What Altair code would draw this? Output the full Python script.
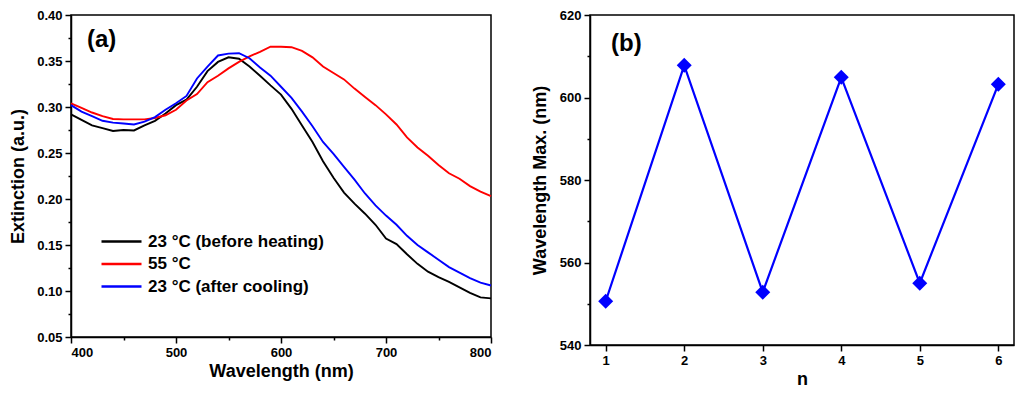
import altair as alt
import pandas as pd

# ---------------- data ----------------
wavelength = [400, 410, 420, 430, 440, 450, 460, 470, 480, 490,
              500, 510, 520, 530, 540, 550, 560, 570, 580, 590,
              600, 610, 620, 630, 640, 650, 660, 670, 680, 690,
              700, 710, 720, 730, 740, 750, 760, 770, 780, 790, 800]

ext_before = [0.292, 0.286, 0.280, 0.277, 0.274, 0.275, 0.2745, 0.280, 0.285, 0.293,
              0.302, 0.308, 0.322, 0.339, 0.349, 0.354, 0.3525, 0.344, 0.334, 0.3235,
              0.3135, 0.298, 0.280, 0.262, 0.241, 0.223, 0.207, 0.195, 0.184, 0.172,
              0.157, 0.151, 0.140, 0.1295, 0.121, 0.115, 0.110, 0.104, 0.098, 0.093, 0.092]

ext_55 = [0.304, 0.299, 0.294, 0.290, 0.287, 0.2865, 0.2865, 0.2865, 0.288, 0.291,
          0.297, 0.307, 0.314, 0.327, 0.334, 0.342, 0.349, 0.355, 0.360, 0.3655,
          0.3655, 0.365, 0.361, 0.354, 0.344, 0.337, 0.330, 0.320, 0.311, 0.302,
          0.292, 0.281, 0.267, 0.256, 0.247, 0.237, 0.228, 0.222, 0.214, 0.208, 0.203]

ext_after = [0.302, 0.295, 0.290, 0.285, 0.283, 0.282, 0.281, 0.284, 0.289, 0.297,
             0.304, 0.312, 0.331, 0.344, 0.356, 0.358, 0.3585, 0.353, 0.343, 0.334,
             0.322, 0.310, 0.295, 0.279, 0.262, 0.249, 0.235, 0.221, 0.206, 0.193,
             0.182, 0.172, 0.160, 0.150, 0.142, 0.134, 0.126, 0.120, 0.114, 0.109, 0.106]

series_names = ["23 °C (before heating)", "55 °C", "23 °C (after cooling)"]
series_colors = ["#000000", "#ff0000", "#0000ff"]

n_cycle = [1, 2, 3, 4, 5, 6]
wl_max = [550.6, 607.8, 552.8, 604.9, 555.0, 603.2]

x_ticks_a = [400, 450, 500, 550, 600, 650, 700, 750, 800]
y_ticks_a = [0.05, 0.075, 0.10, 0.125, 0.15, 0.175, 0.20, 0.225, 0.25,
             0.275, 0.30, 0.325, 0.35, 0.375, 0.40]
x_ticks_b = [1, 2, 3, 4, 5, 6]
y_ticks_b = [540, 550, 560, 570, 580, 590, 600, 610, 620]

# ---------------- tables ----------------
rows = []
for name, vals in zip(series_names, [ext_before, ext_55, ext_after]):
    for w, v in zip(wavelength, vals):
        rows.append({"wavelength": w, "extinction": v, "series": name})
df_a = pd.DataFrame(rows)
df_b = pd.DataFrame({"n": n_cycle, "wl": wl_max})

FONT = "Liberation Sans"

def tick_size(test):
    return {"condition": {"test": test, "value": 6}, "value": 3}

# ---------------- panel (a) ----------------
maj_xa = "datum.value % 100 === 0"
maj_ya = "abs(datum.value*20 - round(datum.value*20)) < 0.001"

lines = alt.Chart(df_a).mark_line(strokeWidth=1.9).encode(
    x=alt.X("wavelength:Q",
            scale=alt.Scale(domain=[400, 800], nice=False, zero=False),
            axis=alt.Axis(values=x_ticks_a, tickSize=tick_size(maj_xa),
                          labelExpr=f"{maj_xa} ? format(datum.value, 'd') : ''",
                          titlePadding=3, labelPadding=3),
            title="Wavelength (nm)"),
    y=alt.Y("extinction:Q",
            scale=alt.Scale(domain=[0.05, 0.40], nice=False, zero=False),
            axis=alt.Axis(values=y_ticks_a, tickSize=tick_size(maj_ya),
                          labelExpr=f"{maj_ya} ? format(datum.value, '.2f') : ''",
                          titlePadding=9, labelPadding=3),
            title="Extinction (a.u.)"),
    color=alt.Color("series:N",
                    scale=alt.Scale(domain=series_names, range=series_colors),
                    sort=series_names,
                    legend=alt.Legend(title=None, orient="none", legendX=39, legendY=215,
                                      symbolType="M-2,0H2", symbolSize=400,
                                      symbolStrokeWidth=2.5, labelFontSize=17,
                                      labelFont=FONT, labelFontWeight="bold",
                                      labelColor="black", rowPadding=2.5,
                                      labelOffset=15, padding=0, labelLimit=0)),
)

label_a = alt.Chart(pd.DataFrame({"t": ["(a)"]})).mark_text(
    font=FONT, fontSize=24, fontWeight="bold", align="left", baseline="middle", color="black"
).encode(text="t:N", x=alt.value(16), y=alt.value(25))

panel_a = alt.layer(lines, label_a).properties(width=420, height=322)

# ---------------- panel (b) ----------------
maj_yb = "datum.value % 20 === 0"

xb = alt.X("n:Q", scale=alt.Scale(domain=[0.8, 6.2], nice=False, zero=False),
           axis=alt.Axis(values=x_ticks_b, format="d", tickSize=6,
                         titlePadding=3, labelPadding=3),
           title="n")
yb = alt.Y("wl:Q", scale=alt.Scale(domain=[540, 620], nice=False, zero=False),
           axis=alt.Axis(values=y_ticks_b, tickSize=tick_size(maj_yb),
                         labelExpr=f"{maj_yb} ? format(datum.value, 'd') : ''",
                         titlePadding=10, labelPadding=3),
           title="Wavelength Max. (nm)")

line_b = alt.Chart(df_b).mark_line(color="#0000ff", strokeWidth=2.2).encode(x=xb, y=yb)
pts_b = alt.Chart(df_b).mark_point(shape="diamond", filled=True, size=225,
                                   color="#0000ff", opacity=1).encode(x=xb, y=yb)
label_b = alt.Chart(pd.DataFrame({"t": ["(b)"]})).mark_text(
    font=FONT, fontSize=24, fontWeight="bold", align="left", baseline="middle", color="black"
).encode(text="t:N", x=alt.value(21), y=alt.value(29))

panel_b = alt.layer(line_b, pts_b, label_b).properties(width=424, height=330)

chart = alt.hconcat(panel_a, panel_b, spacing=34).properties(padding=0).configure_view(
    stroke="black", strokeWidth=1.5
).configure_axis(
    grid=False,
    domainColor="black", domainWidth=1.5,
    tickColor="black", tickWidth=1.5,
    labelFont=FONT, labelFontSize=13, labelFontWeight="bold", labelColor="black",
    titleFont=FONT, titleFontSize=18, titleFontWeight="bold", titleColor="black",
)

chart.save("out.html", embed_options={"renderer": "svg", "actions": False})
